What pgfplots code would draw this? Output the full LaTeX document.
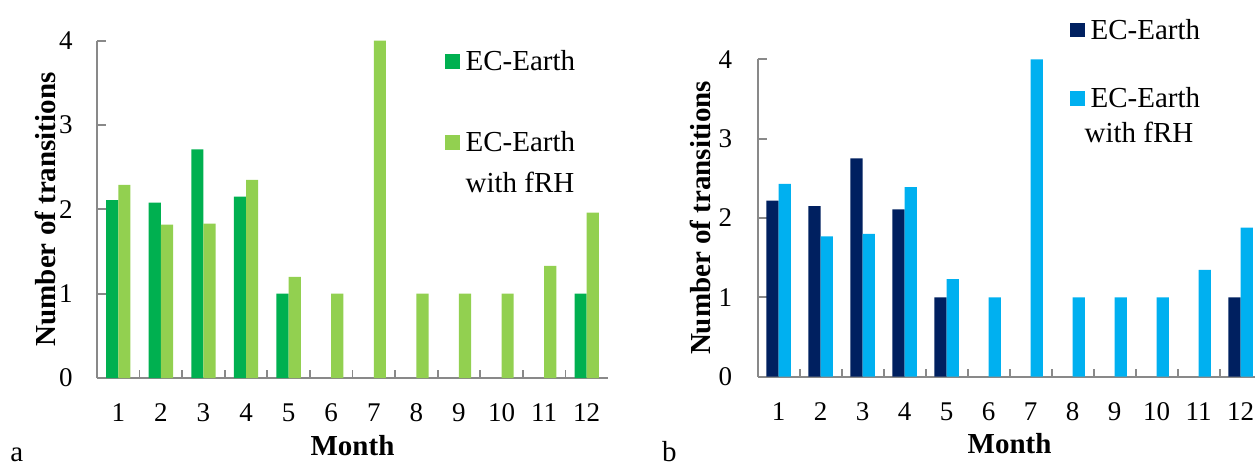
\documentclass[border=0pt]{standalone}
\usepackage{fontspec}
\setmainfont{Liberation Serif}
\usepackage{pgfplots}
\pgfplotsset{compat=1.18}
\definecolor{dgreen}{HTML}{00B050}
\definecolor{lgreen}{HTML}{92D050}
\definecolor{navy}{HTML}{002060}
\definecolor{lblue}{HTML}{00B0F0}
\definecolor{axgray}{HTML}{898989}
\pgfplotsset{
  panel/.style={
    scale only axis,
    ybar=0pt, bar width=6.1pt,
    xmin=0.5, xmax=12.5, ymin=0, ymax=4,
    axis x line*=bottom, axis y line*=left,
    axis line style={-, draw=axgray, line width=0.9pt},
    xtick={1,...,12}, ytick={0,1,2,3,4},
    minor xtick={1.5,2.5,...,11.5},
    tick align=inside,
    major tick length=4.5pt, minor tick length=4pt,
    tick style={draw=axgray, line width=0.9pt},
    major x tick style={draw=none},
    /pgf/number format/assume math mode=true,
    xticklabel style={font=\fontsize{13.5}{16}\selectfont, anchor=base, inner sep=0pt, yshift=-21.5pt},
    yticklabel style={font=\fontsize{13.5}{16}\selectfont, anchor=east, inner xsep=0pt},
    xlabel={Month}, ylabel={Number of transitions},
    xlabel style={font=\fontsize{14.5}{17}\selectfont\bfseries, at={(axis description cs:0.5,0)}, anchor=base},
    ylabel style={font=\fontsize{14.5}{17}\selectfont\bfseries, anchor=center},
    legend cell align=left,
    legend image code/.code={\path (0pt,0pt); \fill[##1,draw=none] (0pt,1pt) rectangle (7.3pt,8.3pt);},
    every axis plot/.append style={draw=none},
  }
}
\begin{document}
\begin{tikzpicture}
\begin{axis}[panel,
  at={(48.5pt,-189pt)}, anchor=south west,
  width=255.5pt, height=168.65pt,
  yticklabel style={xshift=-12pt},
  xlabel style={yshift=-38.5pt},
  ylabel style={at={(axis description cs:-0.1018,0.5)}},
  legend style={draw=none, fill=none, inner sep=0pt, outer sep=0pt,
    at={(0.681,0.9603)}, anchor=north west, row sep=31.7pt, column sep=3pt,
    font=\fontsize{14.5}{20.5}\selectfont,
    nodes={inner sep=0pt, text height=0pt, text depth=0pt}},
]
\addplot[fill=dgreen] coordinates {(1,2.11) (2,2.08) (3,2.71) (4,2.15) (5,1) (12,1)};
\addlegendentry{EC-Earth}
\addplot[fill=lgreen] coordinates {(1,2.29) (2,1.82) (3,1.83) (4,2.35) (5,1.20) (6,1) (7,4) (8,1) (9,1) (10,1) (11,1.33) (12,1.96)};
\addlegendentry{\begin{tabular}[t]{@{}l@{}}EC-Earth\\with fRH\end{tabular}}
\end{axis}
\begin{axis}[panel,
  at={(378.8pt,-188.35pt)}, anchor=south west,
  width=252pt, height=158.7pt,
  yticklabel style={xshift=-12.5pt},
  xticklabel style={yshift=-0.5pt},
  xlabel style={yshift=-38.15pt},
  ylabel style={at={(axis description cs:-0.1143,0.5)}},
  legend style={draw=none, fill=none, inner sep=0pt, outer sep=0pt,
    at={(0.6198,1.1153)}, anchor=north west, row sep=25.4pt, column sep=3pt,
    font=\fontsize{14.5}{17.2}\selectfont,
    nodes={inner sep=0pt, text height=0pt, text depth=0pt}},
]
\addplot[fill=navy] coordinates {(1,2.22) (2,2.15) (3,2.75) (4,2.11) (5,1) (12,1)};
\addlegendentry{EC-Earth}
\addplot[fill=lblue] coordinates {(1,2.43) (2,1.77) (3,1.80) (4,2.39) (5,1.23) (6,1) (7,4) (8,1) (9,1) (10,1) (11,1.345) (12,1.88)};
\addlegendentry{\begin{tabular}[t]{@{}l@{}}EC-Earth\\\hspace*{-3pt}with fRH\end{tabular}}
\end{axis}
\node[anchor=base west, inner sep=0pt, font=\fontsize{14.5}{17}\selectfont] at (5pt,-230.5pt) {a};
\node[anchor=base west, inner sep=0pt, font=\fontsize{14.5}{17}\selectfont] at (330.8pt,-230.8pt) {b};
\pgfresetboundingbox
\path (0pt,0pt) rectangle (627.5pt,-232.5pt);
\end{tikzpicture}
\end{document}
